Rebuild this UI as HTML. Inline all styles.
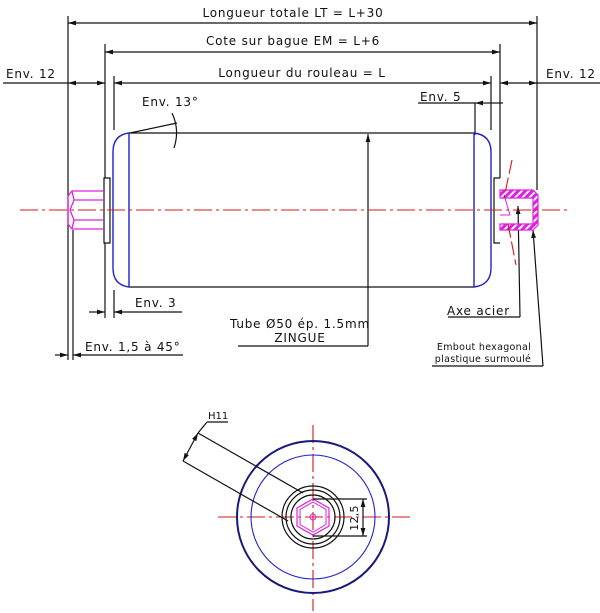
<!DOCTYPE html>
<html><head><meta charset="utf-8"><style>
html,body{margin:0;padding:0;background:#fff}
svg{display:block}
text{font-family:"DejaVu Sans","Liberation Sans",sans-serif;font-size:12px;letter-spacing:0.8px;fill:#111}
</style></head><body>
<svg width="600" height="613" viewBox="0 0 600 613" xmlns="http://www.w3.org/2000/svg">
<defs>
<marker id="a" viewBox="0 0 10 6" refX="10" refY="3" markerWidth="8" markerHeight="4" orient="auto-start-reverse"><path d="M0,0L10,3L0,6z" fill="#111"/></marker>
<pattern id="h" width="5" height="5" patternUnits="userSpaceOnUse" patternTransform="rotate(45)"><rect width="5" height="5" fill="#fff"/><rect width="3" height="5" fill="#e020e0"/></pattern>
</defs>
<g stroke="#111" stroke-width="1.2" fill="none">
<line x1="68" y1="16" x2="68" y2="360"/>
<line x1="73" y1="230" x2="73" y2="360"/>
<line x1="105" y1="44" x2="105" y2="178"/>
<line x1="105" y1="243" x2="105" y2="318"/>
<line x1="114" y1="76" x2="114" y2="130"/>
<line x1="114" y1="290" x2="114" y2="318"/>
<line x1="537" y1="16" x2="537" y2="190"/>
<line x1="500" y1="44" x2="500" y2="178"/>
<line x1="491" y1="76" x2="491" y2="130"/>
<line x1="475" y1="103" x2="475" y2="135"/>
<line x1="68" y1="23" x2="537" y2="23" marker-start="url(#a)" marker-end="url(#a)"/>
<line x1="105" y1="52" x2="500" y2="52" marker-start="url(#a)" marker-end="url(#a)"/>
<line x1="114" y1="83" x2="491" y2="83" marker-start="url(#a)" marker-end="url(#a)"/>
<line x1="3" y1="83" x2="68" y2="83"/>
<line x1="68" y1="83" x2="105" y2="83" marker-start="url(#a)" marker-end="url(#a)"/>
<line x1="500" y1="83" x2="537" y2="83" marker-start="url(#a)" marker-end="url(#a)"/>
<line x1="537" y1="83" x2="600" y2="83"/>
<line x1="418" y1="103" x2="475" y2="103"/>
<line x1="475" y1="103" x2="491" y2="103" marker-start="url(#a)"/>
<line x1="491" y1="103" x2="503" y2="103"/>
<line x1="89" y1="312" x2="105" y2="312" marker-end="url(#a)"/>
<line x1="114" y1="312" x2="182" y2="312" marker-start="url(#a)"/>
<line x1="55" y1="355" x2="68" y2="355" marker-end="url(#a)"/>
<line x1="73" y1="355" x2="183" y2="355" marker-start="url(#a)"/>
<line x1="130" y1="133" x2="177" y2="123"/>
<path d="M172,113 Q180,130 174,148" />
<line x1="129" y1="133" x2="474" y2="133"/>
<line x1="129" y1="287" x2="474" y2="287"/>
<path d="M104,178 h6 v65 h-6 z" />
<path d="M500,178 h-6 v65 h6" />
<line x1="368" y1="287" x2="368" y2="134" marker-end="url(#a)"/>
<line x1="368" y1="287" x2="368" y2="346"/>
<line x1="238" y1="346" x2="368" y2="346"/>
<line x1="448" y1="317" x2="520" y2="317"/>
<line x1="520" y1="317" x2="518" y2="206" marker-end="url(#a)"/>
<line x1="432" y1="366" x2="543" y2="366"/>
<line x1="543" y1="366" x2="533" y2="230" marker-end="url(#a)"/>
</g>
<g stroke="#2020d0" stroke-width="1.4" fill="none">
<path d="M129,133 Q113,135 113,152 V268 Q113,285 129,287"/>
<line x1="129" y1="133" x2="129" y2="287"/>
<path d="M474,133 Q491,135 491,152 V268 Q491,285 474,287"/>
<line x1="474" y1="133" x2="474" y2="287"/>
</g>
<g stroke="#e020e0" stroke-width="1.3" fill="none">
<path d="M104,191 H72 L68,196 V224 L72,229 H104"/>
<line x1="74" y1="200" x2="104" y2="200"/>
<line x1="74" y1="220" x2="104" y2="220"/>
<path d="M72,191 L74,200 L70,210 L74,220 L72,229"/>
</g>
<path d="M500,190 H533 L538,195 V225 L533,230 H500 V224 H533 V198 H500 Z" fill="url(#h)" stroke="#e020e0" stroke-width="1.2"/>
<line x1="500" y1="198" x2="505" y2="198" stroke="#e020e0"/>
<line x1="500" y1="215" x2="510" y2="215" stroke="#e020e0"/>
<path d="M505,198 L510,215" stroke="#e020e0" fill="none"/>
<g stroke="#d01818" stroke-width="1.1" fill="none">
<line x1="512" y1="160" x2="504" y2="198" stroke-dasharray="14,4"/>
<line x1="508" y1="224" x2="516" y2="265" stroke-dasharray="14,4"/>
<line x1="20" y1="210" x2="570" y2="210" stroke-dasharray="18,4,3,4"/>
<line x1="218" y1="517" x2="410" y2="517" stroke-dasharray="18,4,3,4"/>
<line x1="313" y1="425" x2="313" y2="611" stroke-dasharray="18,4,3,4"/>
</g>
<g fill="none">
<circle cx="313" cy="517" r="76" stroke="#1a1a7a" stroke-width="2"/>
<circle cx="313" cy="517" r="62" stroke="#2020d0" stroke-width="1.1"/>
<circle cx="313" cy="517" r="31" stroke="#111" stroke-width="1.2"/>
<circle cx="313" cy="517" r="27" stroke="#111" stroke-width="1.2"/>
<circle cx="313" cy="517" r="22" stroke="#111" stroke-width="1.2"/>
<polygon points="313,499 329,508 329,526 313,535 297,526 297,508" stroke="#e020e0" stroke-width="1.2"/>
<polygon points="313,502 326,509.5 326,524.5 313,532 300,524.5 300,509.5" stroke="#e020e0"/>
<circle cx="313" cy="517" r="3" stroke="#e020e0"/>
<g stroke="#111" stroke-width="1.2">
<line x1="313" y1="499" x2="367" y2="499"/>
<line x1="313" y1="536" x2="367" y2="536"/>
<line x1="363" y1="499" x2="363" y2="536" marker-start="url(#a)" marker-end="url(#a)"/>
<line x1="198" y1="433" x2="303" y2="493"/>
<line x1="183" y1="461" x2="288" y2="521"/>
<line x1="198" y1="433" x2="183" y2="461" marker-start="url(#a)" marker-end="url(#a)"/>
<line x1="198" y1="433" x2="207" y2="422"/>
<line x1="207" y1="422" x2="228" y2="422"/>
</g>
</g>
<text x="293" y="17" text-anchor="middle">Longueur totale LT = L+30</text>
<text x="293" y="45" text-anchor="middle">Cote sur bague EM = L+6</text>
<text x="302" y="77" text-anchor="middle">Longueur du rouleau = L</text>
<text x="6" y="78">Env. 12</text>
<text x="546" y="78">Env. 12</text>
<text x="142" y="106">Env. 13°</text>
<text x="420" y="101">Env. 5</text>
<text x="135" y="307">Env. 3</text>
<text x="85" y="351">Env. 1,5 à 45°</text>
<text x="300" y="328" text-anchor="middle">Tube Ø50 ép. 1.5mm</text>
<text x="300" y="342" text-anchor="middle">ZINGUE</text>
<text x="447" y="315">Axe acier</text>
<text x="484" y="350" text-anchor="middle" style="font-size:9.5px;letter-spacing:0.3px">Embout hexagonal</text>
<text x="483" y="362" text-anchor="middle" style="font-size:9.5px;letter-spacing:0.3px">plastique surmoulé</text>
<text x="208" y="419" style="font-size:10px;letter-spacing:0">H11</text>
<text transform="translate(358,518) rotate(-90)" text-anchor="middle" style="font-size:11px;letter-spacing:0.3px">12,5</text>
</svg>
</body></html>
